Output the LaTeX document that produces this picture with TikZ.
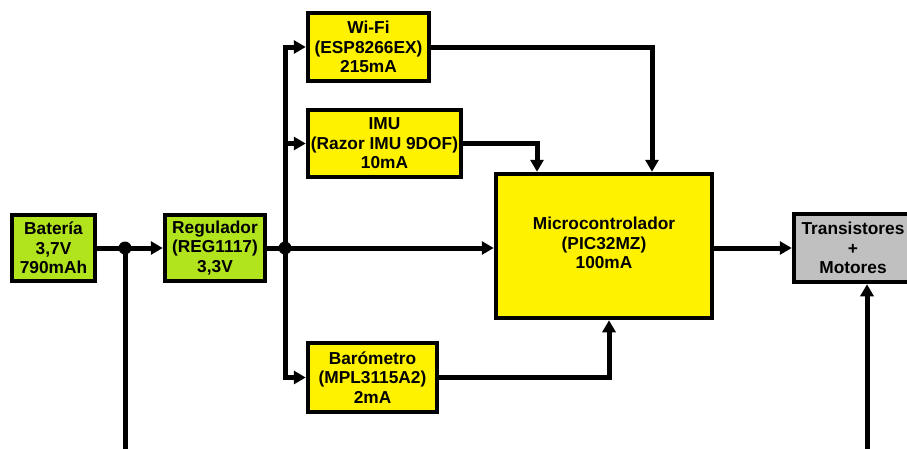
\documentclass[tikz,border=0pt]{standalone}
\usepackage{fontspec}
\setmainfont{Liberation Sans}
\usepackage{xcolor}
\usetikzlibrary{arrows.meta}

\definecolor{lima}{RGB}{178,228,30}
\definecolor{amarillo}{RGB}{255,242,0}
\definecolor{gris}{RGB}{192,192,192}

\begin{document}
\begin{tikzpicture}[x=1pt,y=-1pt,
        bloque/.style={draw, line width=4.5pt, rectangle, align=center, inner sep=0pt,
            font=\fontsize{17.3}{19.5}\selectfont\bfseries},
        linea/.style={line width=5pt},
        flecha/.style={line width=5pt, -{Triangle[length=12pt,width=13pt]}},
    ]
            \useasboundingbox (0,0) rectangle (907,448);
            \clip (0,0) rectangle (907,448);

                \node[bloque, fill=lima, minimum width=83, minimum height=66] (bat) at (53.5,248) {Batería\\3,7V\\790mAh};
                \coordinate (j1) at (125,248);
                \coordinate (b1) at (125,455);
                \node[bloque, fill=lima, minimum width=100, minimum height=66] (reg) at (215,248) {Regulador\\(REG1117)\\3,3V};
                \coordinate (j2) at (285,248);

                \node[bloque, fill=amarillo, minimum width=121, minimum height=68] (wifi) at (368.5,47) {Wi-Fi\\(ESP8266EX)\\215mA};
                \node[bloque, fill=amarillo, minimum width=153, minimum height=67] (imu) at (384.5,143.5) {IMU\\(Razor IMU 9DOF)\\10mA};
                \node[bloque, fill=amarillo, minimum width=129, minimum height=69] (baro) at (372.5,377.5) {Barómetro\\(MPL3115A2)\\2mA};

                \node[bloque, fill=amarillo, minimum width=216, minimum height=144,
                    text depth=6pt] (mcu) at (604,246) {Microcontrolador\\(PIC32MZ)\\100mA};
                \node[bloque, fill=gris, minimum width=118, minimum height=68] (mot) at (853,248) {Transistores\\+\\Motores};
                \coordinate (b2) at (867,455);

                % alimentacion
                \draw[linea] (bat) -- (j1);
                \draw[flecha] (j1) -- (reg);
                \draw[linea] (j1) -- (b1);
                \draw[linea] (reg) -- (j2);
                \draw[flecha] (j2) |- (wifi);
                \draw[flecha] (j2) |- (imu);
                \draw[flecha] (j2) |- (baro);
                \draw[flecha] (j2) -- (j2 -| mcu.west);

                % sensores al micro
                \draw[flecha] (wifi.east) -| ([xshift=48pt]mcu.north);
                \draw[flecha] (imu.east) -| ([xshift=-67pt]mcu.north);
                \draw[flecha] (baro.east) -| ([xshift=5pt]mcu.south);

                \draw[flecha] (mcu.east |- mot) -- (mot);
                \draw[flecha] (b2) -- ([xshift=14pt]mot.south);

                \fill (j1) circle (6.5pt);
                \fill (j2) circle (6.5pt);
        \end{tikzpicture}
\end{document}
